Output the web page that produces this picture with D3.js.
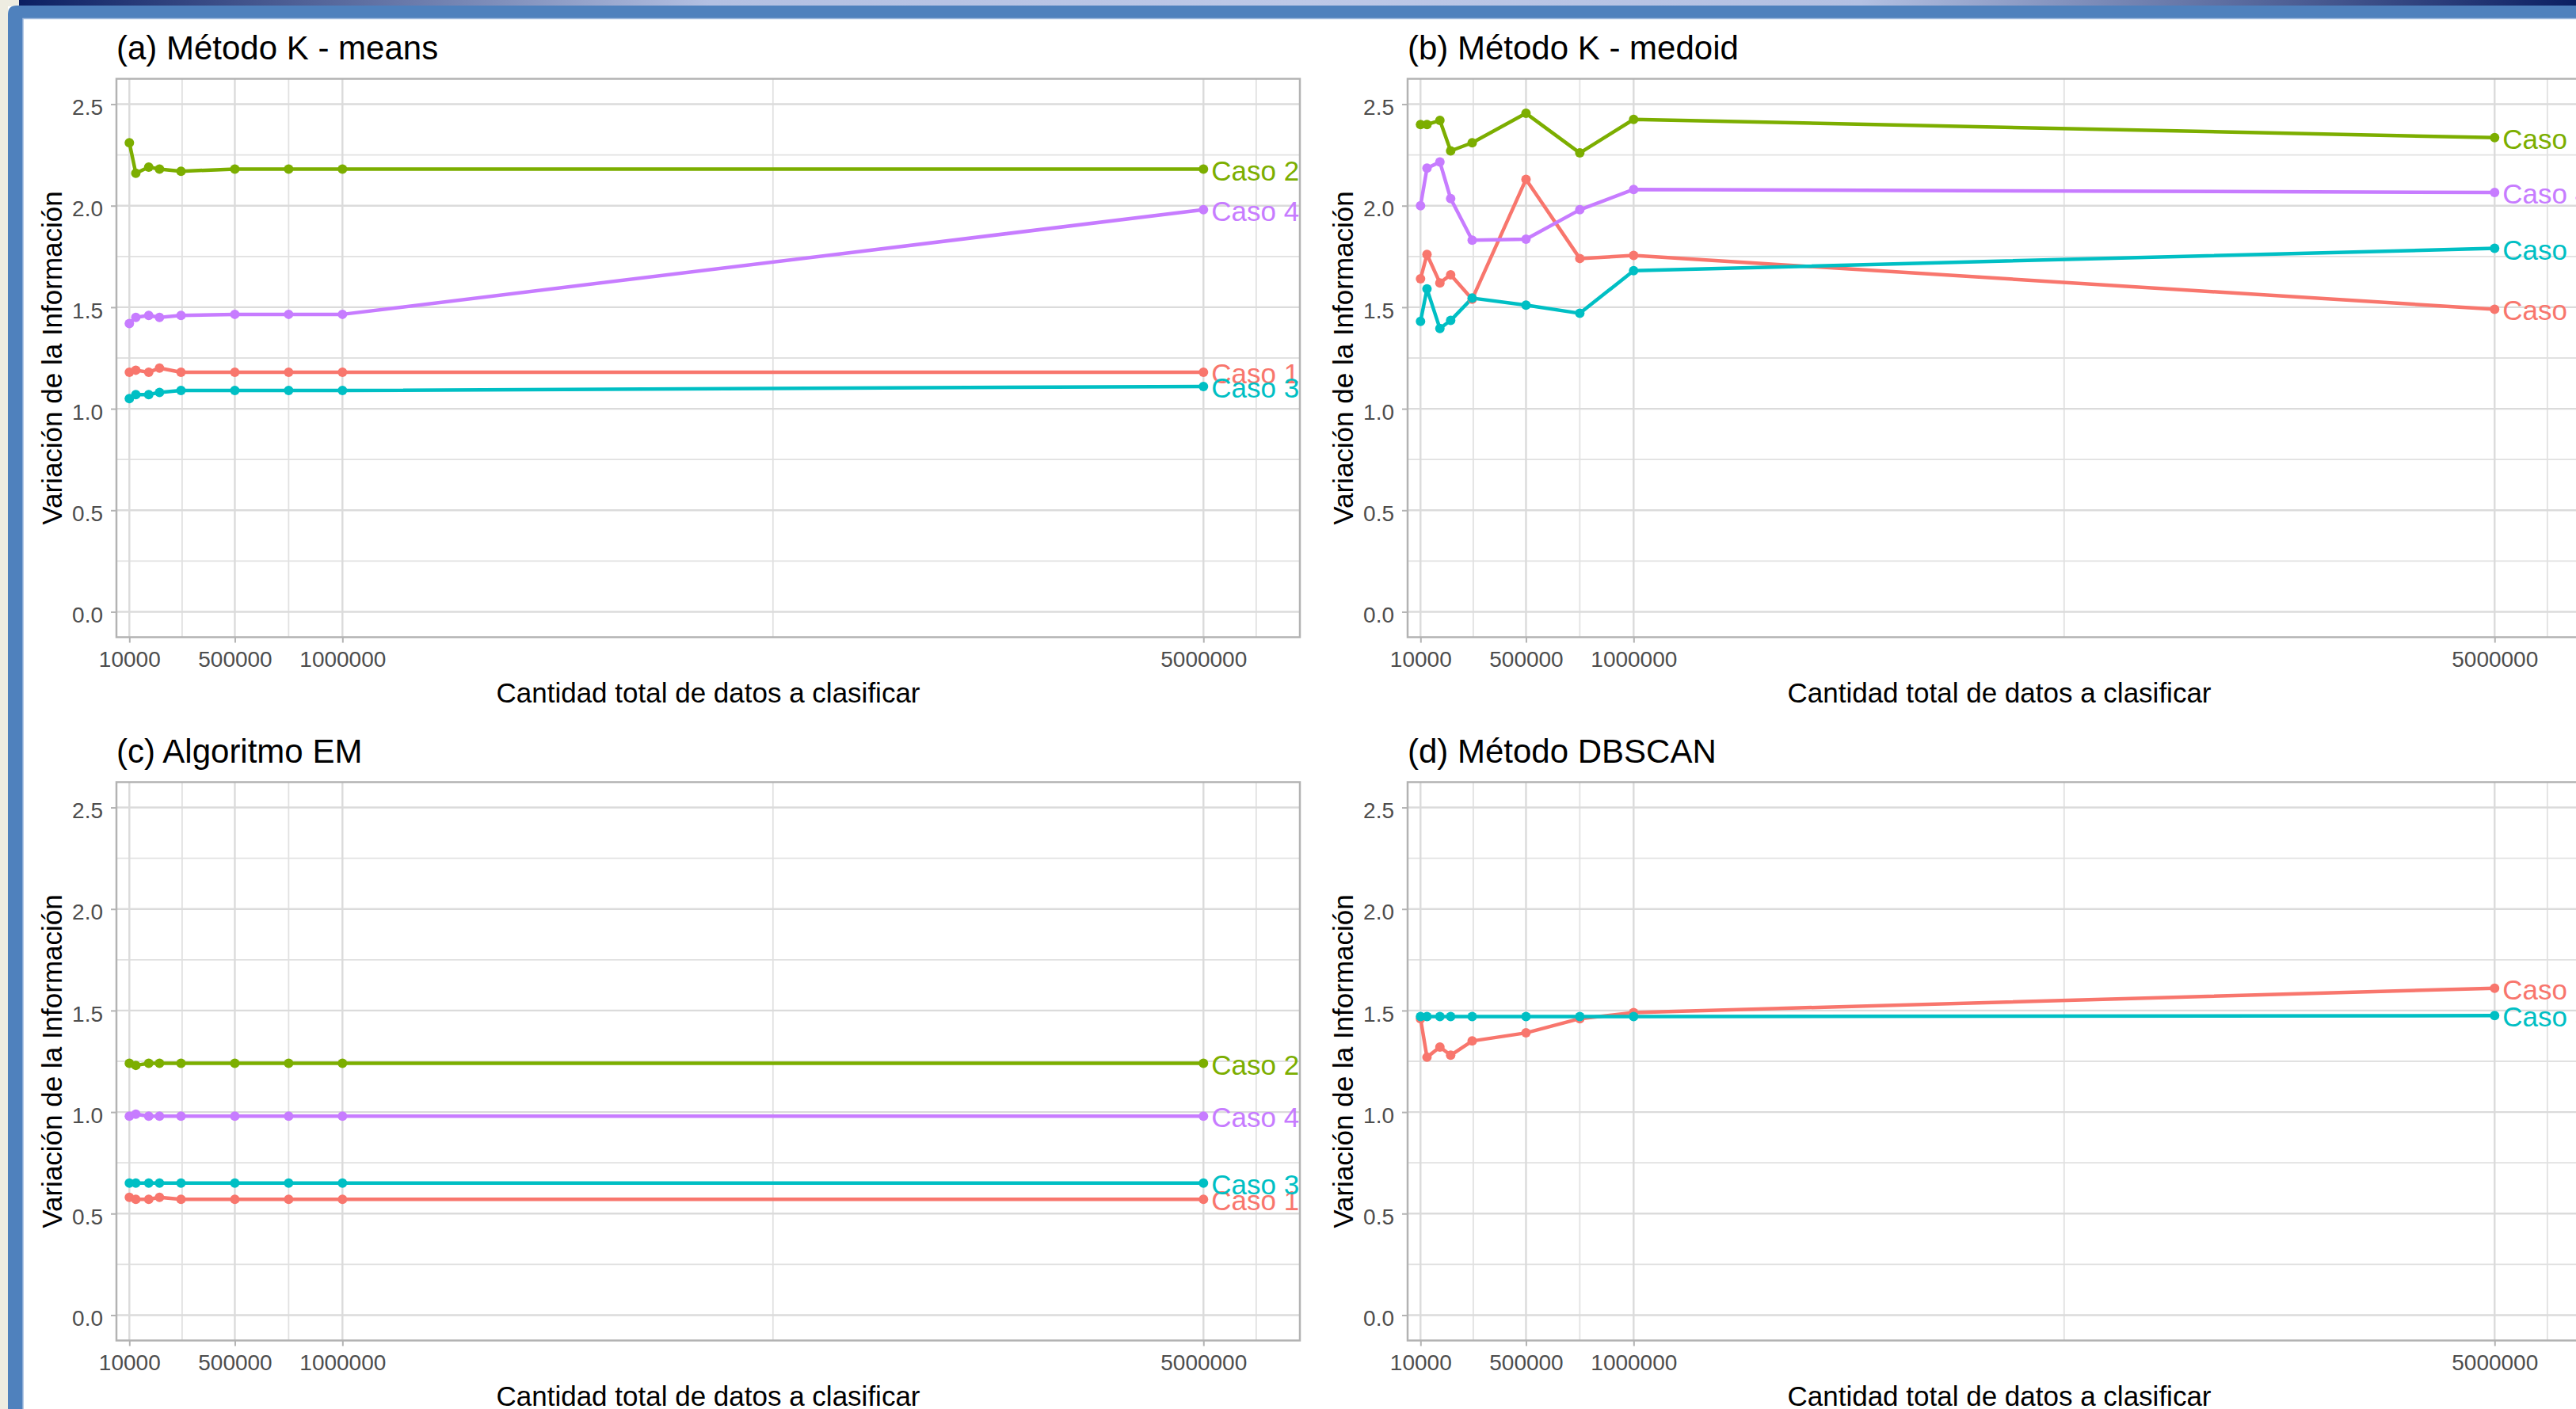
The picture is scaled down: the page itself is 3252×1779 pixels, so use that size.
<!DOCTYPE html>
<html>
<head>
<meta charset="utf-8">
<script src="https://cdnjs.cloudflare.com/ajax/libs/d3/7.8.5/d3.min.js"></script>
<style>
  body { margin: 0; background: #fff; overflow: hidden; }
  svg { display: block; font-family: "Liberation Sans", Arial, sans-serif; }
</style>
</head>
<body>
<svg id="chart" width="3252" height="1779"></svg>
<script>
// Cantidad total de datos a clasificar (shared x values of every panel)
const sizes = [10000, 40000, 100000, 150000, 250000, 500000, 750000, 1000000, 5000000];
const xTickValues = [10000, 500000, 1000000, 5000000];
const xMinorValues = [255000, 750000, 3000000, 5245000];
const yTickValues = [0, 0.5, 1, 1.5, 2, 2.5];
const yMinorValues = [0.25, 0.75, 1.25, 1.75, 2.25];

const casos = ['Caso 1', 'Caso 2', 'Caso 3', 'Caso 4'];
const casoColors = ['#F8766D', '#7CAE00', '#00BFC4', '#C77CFF'];

// Variación de la Información, one row per caso (null = not plotted)
const kmeans = [
  [1.18, 1.19, 1.18, 1.20, 1.18, 1.18, 1.18, 1.18, 1.18],
  [2.31, 2.16, 2.19, 2.18, 2.17, 2.18, 2.18, 2.18, 2.18],
  [1.05, 1.07, 1.07, 1.08, 1.09, 1.09, 1.09, 1.09, 1.11],
  [1.42, 1.45, 1.46, 1.45, 1.46, 1.465, 1.465, 1.465, 1.98]
];
const kmedoid = [
  [1.64, 1.76, 1.62, 1.66, 1.54, 2.13, 1.74, 1.755, 1.49],
  [2.40, 2.40, 2.42, 2.27, 2.31, 2.455, 2.26, 2.425, 2.335],
  [1.43, 1.59, 1.395, 1.435, 1.545, 1.51, 1.47, 1.68, 1.79],
  [2.00, 2.185, 2.215, 2.035, 1.83, 1.835, 1.98, 2.08, 2.065]
];
const em = [
  [0.58, 0.57, 0.57, 0.58, 0.57, 0.57, 0.57, 0.57, 0.57],
  [1.24, 1.23, 1.24, 1.24, 1.24, 1.24, 1.24, 1.24, 1.24],
  [0.65, 0.65, 0.65, 0.65, 0.65, 0.65, 0.65, 0.65, 0.65],
  [0.98, 0.99, 0.98, 0.98, 0.98, 0.98, 0.98, 0.98, 0.98]
];
const dbscan = [
  [1.46, 1.27, 1.32, 1.28, 1.35, 1.39, 1.46, 1.49, 1.61],
  null,
  [1.47, 1.47, 1.47, 1.47, 1.47, 1.47, 1.47, 1.47, 1.475],
  null
];

const titles = ['(a) Método K - means', '(b) Método K - medoid', '(c) Algoritmo EM', '(d) Método DBSCAN'];
const panelData = [kmeans, kmedoid, em, dbscan];

const W = 3252, H = 1779;
const svg = d3.select('#chart');

// slide background: beige margin, blue frame, gradient band on top
svg.append('rect').attr('width', W).attr('height', H).attr('fill', '#fff');
svg.append('rect').attr('width', 10).attr('height', H).attr('fill', '#EEECE1');
svg.append('rect').attr('x', 10).attr('width', 20).attr('height', 8).attr('fill', '#EEECE1');

const grad = svg.append('defs').append('linearGradient').attr('id', 'band');
[[0, '#0B1F62'], [0.27, '#B3C0E2'], [0.5, '#BDC8E7'], [0.72, '#B3C0E2'], [1, '#0B1F62']]
  .forEach(([o, c]) => grad.append('stop').attr('offset', o).attr('stop-color', c));
svg.append('rect').attr('x', 24).attr('y', 0).attr('width', W - 24).attr('height', 7.5)
  .attr('fill', 'url(#band)');

svg.append('path')
  .attr('d', `M10,${H} V18 Q10,7 21,7 H${W} V23 H29 V${H} Z`)
  .attr('fill', '#4F81BD');
svg.append('path')
  .attr('d', `M29,${H} V23.5 H${W}`)
  .attr('fill', 'none').attr('stroke', '#9DB8DC').attr('stroke-width', 1.5);

// panel geometry
const plotW = 1494, plotH = 705;
const colX = [147, 1777], rowY = [99.5, 987.5];

const x = d3.scaleLinear().domain([-50000, 5448000]).range([0, plotW]);
const y = d3.scaleLinear().domain([-0.125, 2.625]).range([plotH, 0]);

const line = d3.line()
  .x((d, i) => x(sizes[i]))
  .y(d => y(d));

panelData.forEach((series, p) => {
  const ox = colX[p % 2], oy = rowY[Math.floor(p / 2)];
  const g = svg.append('g').attr('transform', `translate(${ox},${oy})`);

  // grid
  g.selectAll('.gx-minor').data(xMinorValues).join('line')
    .attr('x1', d => x(d)).attr('x2', d => x(d)).attr('y1', 0).attr('y2', plotH)
    .attr('stroke', '#E1E1E1').attr('stroke-width', 1.8);
  g.selectAll('.gy-minor').data(yMinorValues).join('line')
    .attr('y1', d => y(d)).attr('y2', d => y(d)).attr('x1', 0).attr('x2', plotW)
    .attr('stroke', '#E1E1E1').attr('stroke-width', 1.8);
  g.selectAll('.gx').data(xTickValues).join('line')
    .attr('x1', d => x(d)).attr('x2', d => x(d)).attr('y1', 0).attr('y2', plotH)
    .attr('stroke', '#DBDBDB').attr('stroke-width', 2.4);
  g.selectAll('.gy').data(yTickValues).join('line')
    .attr('y1', d => y(d)).attr('y2', d => y(d)).attr('x1', 0).attr('x2', plotW)
    .attr('stroke', '#DBDBDB').attr('stroke-width', 2.4);

  // axes
  const xAxis = g.append('g')
    .attr('transform', `translate(0,${plotH})`)
    .call(d3.axisBottom(x).tickValues(xTickValues).tickFormat(d3.format('d'))
      .tickSize(7).tickPadding(10.5));
  const yAxis = g.append('g')
    .call(d3.axisLeft(y).tickValues(yTickValues).tickFormat(d3.format('.1f'))
      .tickSize(7).tickPadding(10));
  [xAxis, yAxis].forEach(a => {
    a.select('.domain').remove();
    a.selectAll('line').attr('stroke', '#B3B3B3').attr('stroke-width', 2);
    a.selectAll('text').attr('font-size', 28).attr('fill', '#4D4D4D')
      .attr('font-family', '"Liberation Sans", Arial, sans-serif');
  });
  yAxis.selectAll('text').attr('dy', '0.47em');

  // panel border
  g.append('rect').attr('width', plotW).attr('height', plotH)
    .attr('fill', 'none').attr('stroke', '#B3B3B3').attr('stroke-width', 2.5);

  const shown = series.map((values, k) => ({ k, values })).filter(s => s.values);

  g.selectAll('.serie').data(shown).join('path')
    .attr('d', s => line(s.values))
    .attr('fill', 'none')
    .attr('stroke', s => casoColors[s.k])
    .attr('stroke-width', 4.5)
    .attr('stroke-linejoin', 'round');

  shown.forEach(s => {
    g.selectAll(null).data(s.values).join('circle')
      .attr('cx', (d, i) => x(sizes[i]))
      .attr('cy', d => y(d))
      .attr('r', 6)
      .attr('fill', casoColors[s.k]);
  });

  g.selectAll('.lbl').data(shown).join('text')
    .attr('x', s => x(sizes[sizes.length - 1]) + 10)
    .attr('y', s => y(s.values[s.values.length - 1]) + 14)
    .attr('font-size', 35)
    .attr('fill', s => casoColors[s.k])
    .text(s => casos[s.k]);

  // titles
  g.append('text').attr('x', 0).attr('y', -24.5)
    .attr('font-size', 42).attr('fill', '#000').text(titles[p]);
  g.append('text')
    .attr('transform', `translate(-69,${plotH / 2}) rotate(-90)`)
    .attr('text-anchor', 'middle').attr('font-size', 35).attr('fill', '#000')
    .text('Variación de la Información');
  g.append('text').attr('x', plotW / 2).attr('y', plotH + 82.5)
    .attr('text-anchor', 'middle').attr('font-size', 35).attr('fill', '#000')
    .text('Cantidad total de datos a clasificar');
});
</script>
</body>
</html>
